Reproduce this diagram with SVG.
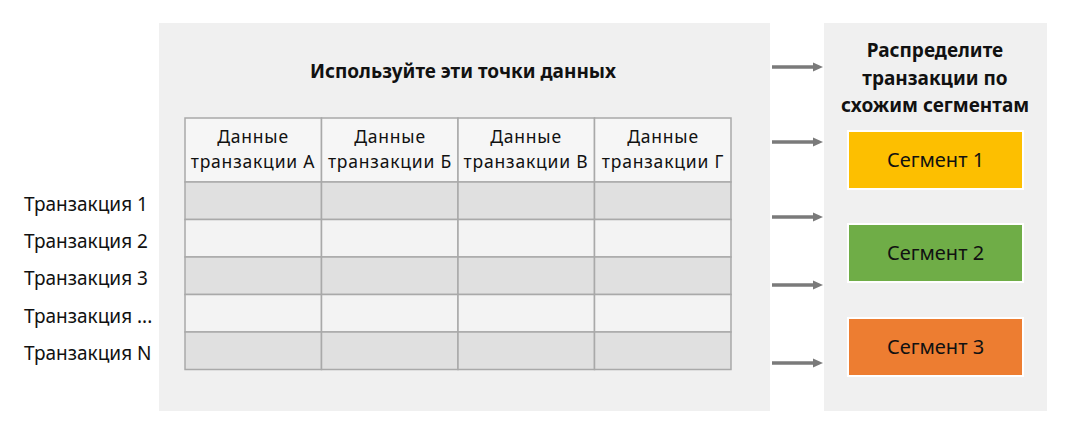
<svg xmlns="http://www.w3.org/2000/svg" width="1073" height="437" viewBox="0 0 1073 437">
<defs>
<style>
text{font-family:"Noto Sans","Liberation Sans",sans-serif;fill:#111;}
.t{font-size:19px;}
.th{font-size:17.5px;letter-spacing:0.8px;}
.s{font-size:20px;}
.b{font-size:19px;font-weight:bold;}
.c{text-anchor:middle;}
.cell{stroke:#a9a9a9;stroke-width:1.5;}
.g{fill:#e0e0e0;}
.w{fill:#f3f3f3;}
.h{fill:#f6f6f6;}
.seg{stroke:#ffffff;stroke-width:2;}
.arr{stroke:#7a7a7a;stroke-width:3.5;fill:none;marker-end:url(#ah);}
</style>
<marker id="ah" markerWidth="10" markerHeight="10" refX="0" refY="5" orient="auto" markerUnits="userSpaceOnUse">
<path d="M0,0.5 L10,5 L0,9.5 Z" fill="#7a7a7a"/>
</marker>
</defs>
<rect width="1073" height="437" fill="#ffffff"/>
<g id="left-panel">
<rect x="159" y="23" width="611" height="388" fill="#f0f0f0"/>
<text class="b c" x="463" y="78">Используйте эти точки данных</text>
</g>
<g id="table">
<rect class="cell h" x="185" y="118" width="136.5" height="64"/>
<rect class="cell h" x="321.5" y="118" width="136.5" height="64"/>
<rect class="cell h" x="458" y="118" width="136.5" height="64"/>
<rect class="cell h" x="594.5" y="118" width="136.5" height="64"/>
<text class="th c" x="253" y="143">Данные</text><text class="th c" x="253" y="168">транзакции А</text>
<text class="th c" x="390" y="143">Данные</text><text class="th c" x="390" y="168">транзакции Б</text>
<text class="th c" x="526" y="143">Данные</text><text class="th c" x="526" y="168">транзакции В</text>
<text class="th c" x="663" y="143">Данные</text><text class="th c" x="663" y="168">транзакции Г</text>
<g class="cell g"><rect x="185" y="182" width="136.5" height="37.5"/><rect x="321.5" y="182" width="136.5" height="37.5"/><rect x="458" y="182" width="136.5" height="37.5"/><rect x="594.5" y="182" width="136.5" height="37.5"/></g>
<g class="cell w"><rect x="185" y="219.5" width="136.5" height="37.5"/><rect x="321.5" y="219.5" width="136.5" height="37.5"/><rect x="458" y="219.5" width="136.5" height="37.5"/><rect x="594.5" y="219.5" width="136.5" height="37.5"/></g>
<g class="cell g"><rect x="185" y="257" width="136.5" height="37.5"/><rect x="321.5" y="257" width="136.5" height="37.5"/><rect x="458" y="257" width="136.5" height="37.5"/><rect x="594.5" y="257" width="136.5" height="37.5"/></g>
<g class="cell w"><rect x="185" y="294.5" width="136.5" height="37.5"/><rect x="321.5" y="294.5" width="136.5" height="37.5"/><rect x="458" y="294.5" width="136.5" height="37.5"/><rect x="594.5" y="294.5" width="136.5" height="37.5"/></g>
<g class="cell g"><rect x="185" y="332" width="136.5" height="37.5"/><rect x="321.5" y="332" width="136.5" height="37.5"/><rect x="458" y="332" width="136.5" height="37.5"/><rect x="594.5" y="332" width="136.5" height="37.5"/></g>
</g>
<g id="row-labels">
<text class="t" x="24" y="211">Транзакция 1</text>
<text class="t" x="24" y="248">Транзакция 2</text>
<text class="t" x="24" y="285">Транзакция 3</text>
<text class="t" x="24" y="323">Транзакция ...</text>
<text class="t" x="24" y="360">Транзакция N</text>
</g>
<g id="right-panel">
<rect x="824" y="23" width="223" height="388" fill="#f0f0f0"/>
<text class="b c" x="935" y="57">Распределите</text>
<text class="b c" x="935" y="85">транзакции по</text>
<text class="b c" x="935" y="112">схожим сегментам</text>
</g>
<g id="segment-1"><rect class="seg" x="848" y="131" width="175" height="58" fill="#fdbf00"/><text class="s c" x="935.5" y="167">Сегмент 1</text></g>
<g id="segment-2"><rect class="seg" x="848" y="224" width="175" height="58" fill="#6fad47"/><text class="s c" x="935.5" y="260">Сегмент 2</text></g>
<g id="segment-3"><rect class="seg" x="848" y="318" width="175" height="58" fill="#ed7d31"/><text class="s c" x="935.5" y="354">Сегмент 3</text></g>
<g id="connectors">
<line class="arr" x1="772" y1="67" x2="813" y2="67"/>
<line class="arr" x1="772" y1="142" x2="813" y2="142"/>
<line class="arr" x1="772" y1="217" x2="813" y2="217"/>
<line class="arr" x1="772" y1="285" x2="813" y2="285"/>
<line class="arr" x1="772" y1="363" x2="813" y2="363"/>
</g>
</svg>
